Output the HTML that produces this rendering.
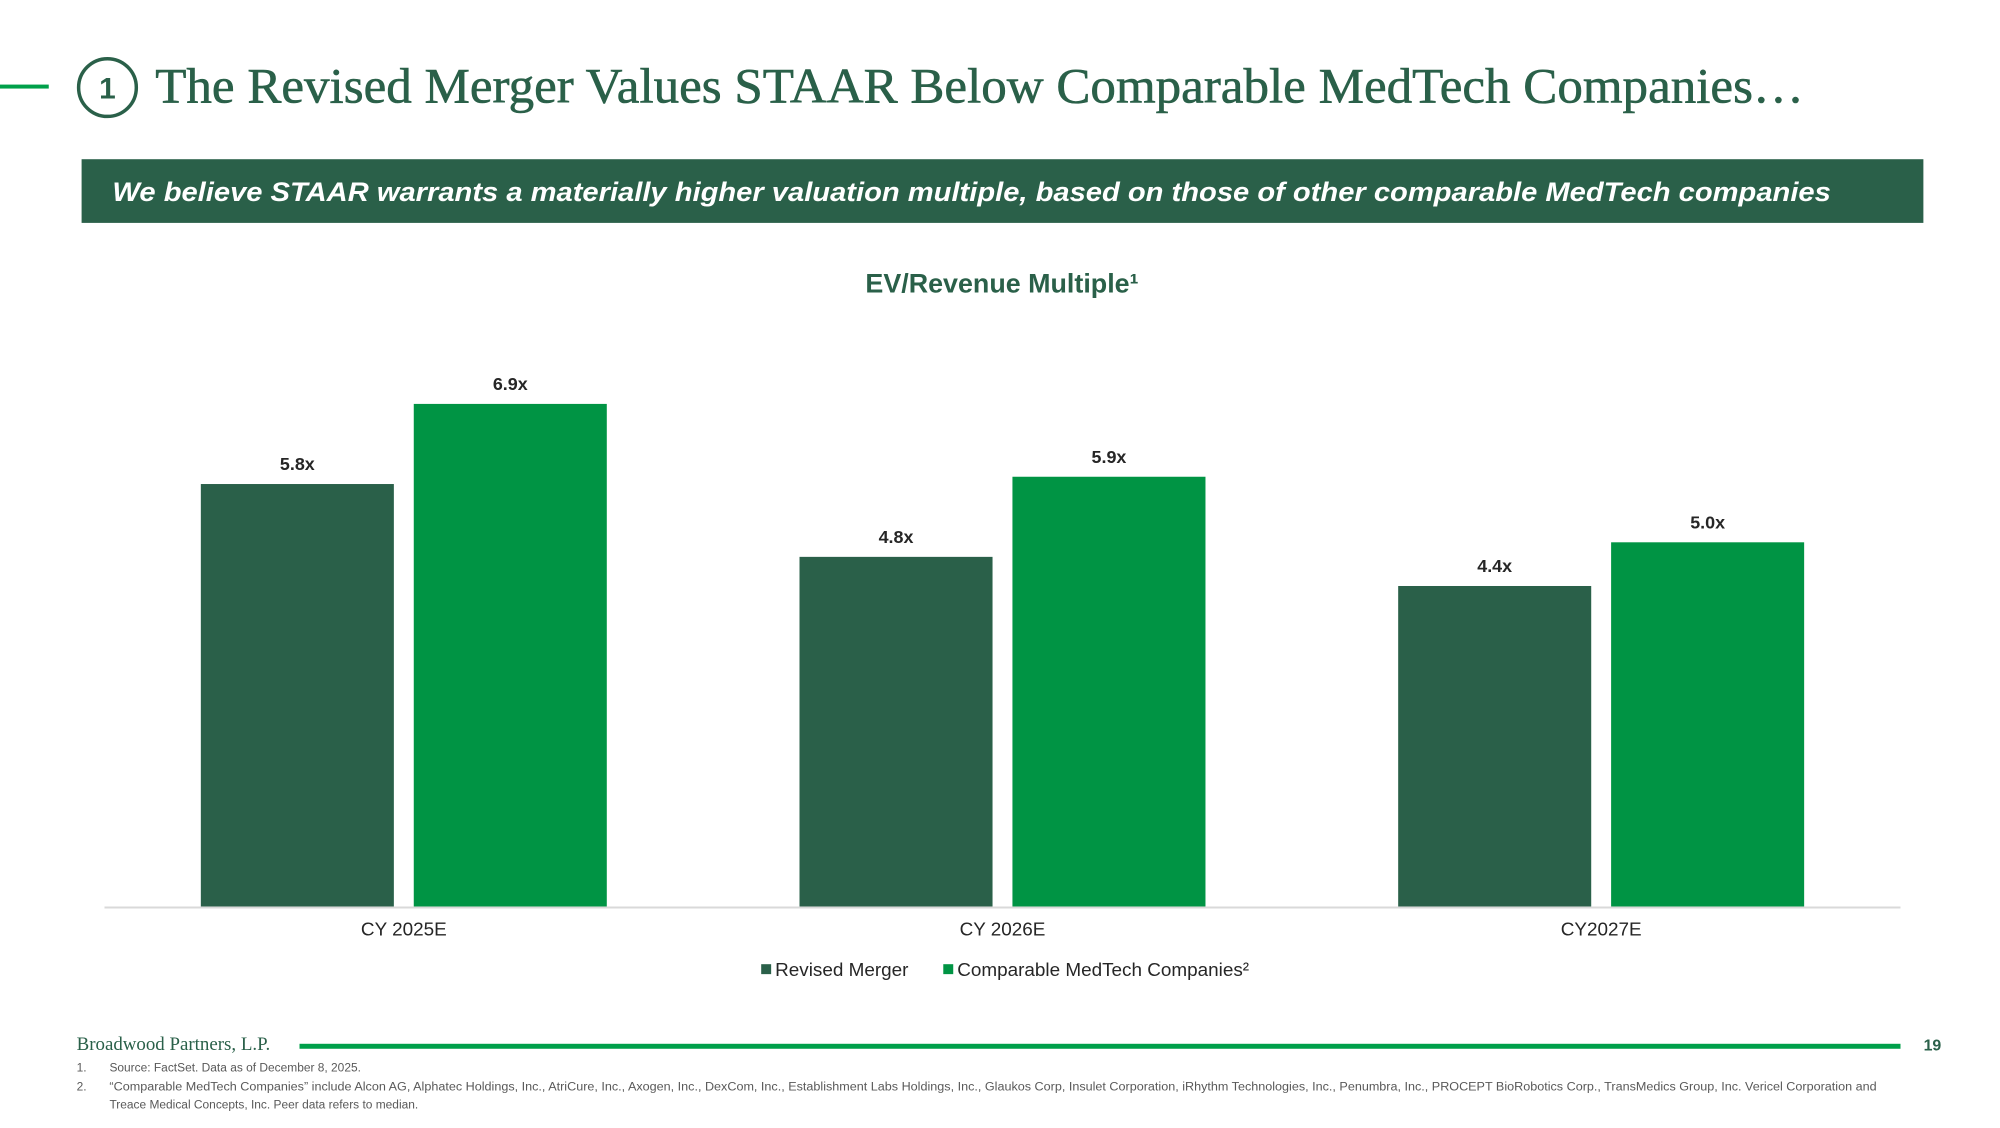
<!DOCTYPE html>
<html><head><meta charset="utf-8"><style>
html,body{margin:0;padding:0;background:#fff;}
body{width:2000px;height:1123px;position:relative;overflow:hidden;font-family:"Liberation Sans",sans-serif;}
</style></head><body>
<svg width="2000" height="1123" viewBox="0 0 2010 1128.6" xmlns="http://www.w3.org/2000/svg">
  <rect x="0" y="85" width="49" height="4" fill="#00a04a"/>
  <circle cx="108" cy="88" r="29" fill="none" stroke="#2a6049" stroke-width="3.5"/>
  <text x="108" y="99" text-anchor="middle" font-size="30" font-weight="bold" fill="#2a6049">1</text>
  <text x="156" y="103" font-family="Liberation Serif,serif" font-size="50" fill="#2a6049" stroke="#2a6049" stroke-width="0.6" textLength="1657" lengthAdjust="spacingAndGlyphs">The Revised Merger Values STAAR Below Comparable MedTech Companies…</text>
  <rect x="82" y="160" width="1851" height="64" fill="#2a6049"/>
  <text x="113" y="202" font-size="27" font-weight="bold" font-style="italic" fill="#fff" textLength="1727" lengthAdjust="spacingAndGlyphs">We believe STAAR warrants a materially higher valuation multiple, based on those of other comparable MedTech companies</text>
  <text x="1007" y="294" text-anchor="middle" font-size="27" font-weight="bold" fill="#2a6049">EV/Revenue Multiple¹</text>
  <g id="chart"></g>
  <rect x="301" y="1049" width="1609" height="5" fill="#00a04a"/>
  <text x="77" y="1055" font-family="Liberation Serif,serif" font-size="19" fill="#2a6049">Broadwood Partners, L.P.</text>
  <text x="1951" y="1056" text-anchor="end" font-size="16" font-weight="bold" fill="#2a6049">19</text>
  <g font-size="12" fill="#595959">
    <text x="77" y="1077">1.</text>
    <text x="110" y="1077">Source: FactSet. Data as of December 8, 2025.</text>
    <text x="77" y="1096">2.</text>
    <text x="110" y="1096" textLength="1776" lengthAdjust="spacingAndGlyphs">“Comparable MedTech Companies” include Alcon AG, Alphatec Holdings, Inc., AtriCure, Inc., Axogen, Inc., DexCom, Inc., Establishment Labs Holdings, Inc., Glaukos Corp, Insulet Corporation, iRhythm Technologies, Inc., Penumbra, Inc., PROCEPT BioRobotics Corp., TransMedics Group, Inc. Vericel Corporation and</text>
    <text x="110" y="1114">Treace Medical Concepts, Inc. Peer data refers to median.</text>
  </g>
</svg>
<script>
const categories = ["CY 2025E", "CY 2026E", "CY2027E"];
const revisedMerger = [5.8, 4.8, 4.4];
const comparableCos = [6.9, 5.9, 5.0];
const seriesNames = ["Revised Merger", "Comparable MedTech Companies²"];

const NS = "http://www.w3.org/2000/svg";
const g = document.getElementById("chart");
const plotLeft = 105, plotRight = 1910, baseY = 911, pxPerUnit = 73.2;
const groupW = (plotRight - plotLeft) / categories.length;
const barW = 194, gap = 20;
const colors = ["#2a6049", "#009444"];
function y(v){ return baseY - v * pxPerUnit; }
function groupCenter(i){ return plotLeft + groupW * (i + 0.5); }
function mk(tag, attrs){ const e = document.createElementNS(NS, tag); for (const k in attrs) e.setAttribute(k, attrs[k]); g.appendChild(e); return e; }

const axis = mk("line", {x1: plotLeft, x2: plotRight, y1: baseY + 1, y2: baseY + 1, stroke: "#d9d9d9", "stroke-width": 2});



const series = [revisedMerger, comparableCos];
categories.forEach((c, i) => {
  const cx = groupCenter(i);
  series.forEach((vals, s) => {
    const x = s === 0 ? cx - gap / 2 - barW : cx + gap / 2;
    const r = mk("rect", {x: x, y: y(vals[i]), width: barW, height: baseY - y(vals[i]), fill: colors[s]});
    
    
    const t = mk("text", {x: x + barW / 2, y: y(vals[i]) - 14, "text-anchor": "middle", "font-size": 18, "font-weight": "bold", fill: "#262626"});
    t.textContent = vals[i].toFixed(1) + "x";
    
    
  });
  const lab = mk("text", {x: cx, y: 940, "text-anchor": "middle", "font-size": 19, fill: "#262626"});
  lab.textContent = c;
  
  
});

const legX = [765, 948];
seriesNames.forEach((n, s) => {
  const sq = mk("rect", {x: legX[s], y: 969, width: 10, height: 10, fill: colors[s]});
  
  
  const t = mk("text", {x: legX[s] + 14, y: 981, "font-size": 19, fill: "#262626"});
  t.textContent = n;
  
  
});
</script>
</body></html>
